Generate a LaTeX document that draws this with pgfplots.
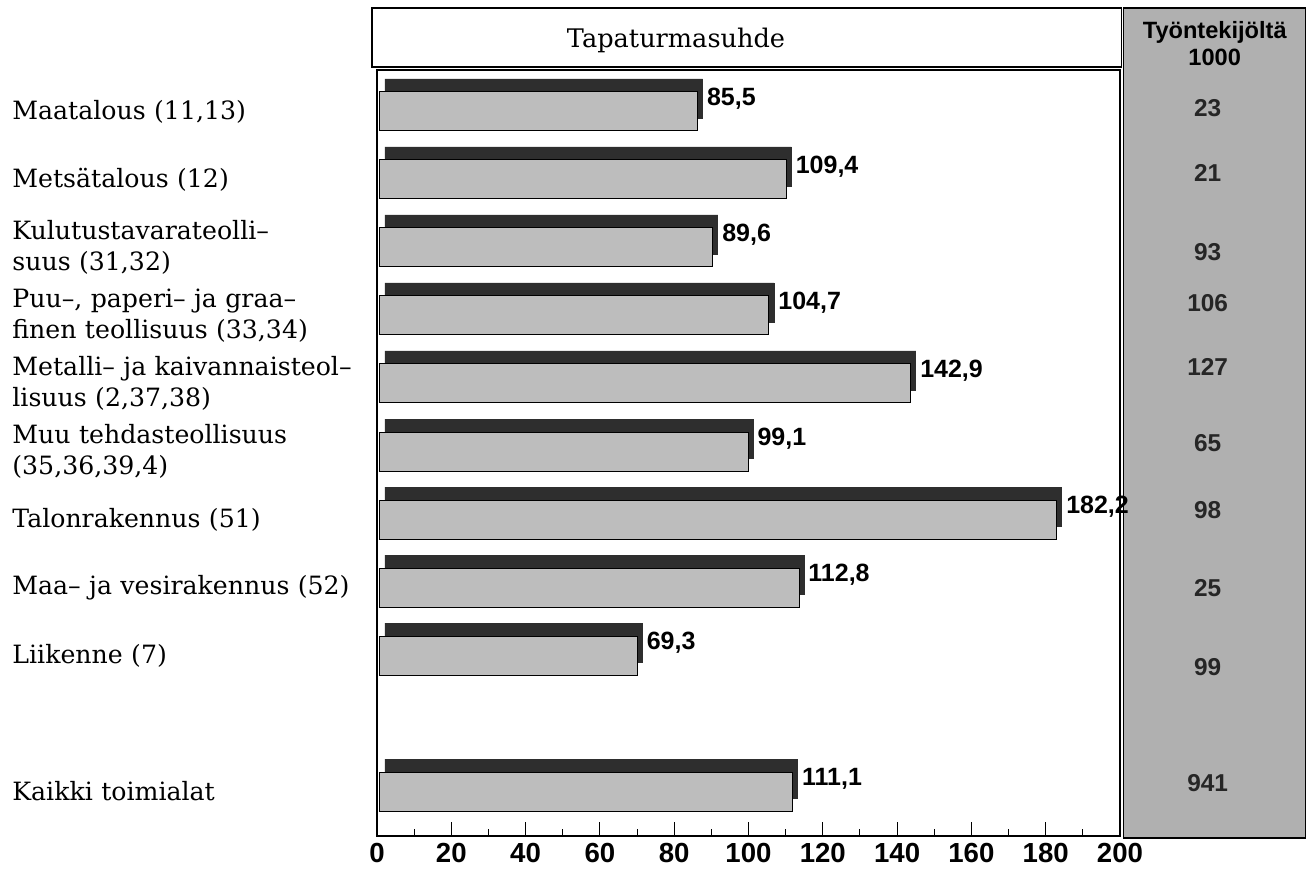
\documentclass[border=0pt]{standalone}
\usepackage{fontspec}
\setmainfont{DejaVu Serif}
\newfontfamily\numfont{Liberation Sans}
\usepackage{pgfplots}
\pgfplotsset{compat=1.18}

\definecolor{face}{gray}{0.74}
\definecolor{topface}{gray}{0.18}
\definecolor{panel}{gray}{0.69}

\begin{document}
\begin{tikzpicture}
\begin{axis}[
  scale only axis, width=371.5pt, height=383pt,
  xmin=0, xmax=200, ymin=-0.61, ymax=10.654, y dir=reverse,
  clip=false,
  axis line style={black, line width=0.6pt},
  xtick={0,20,...,200}, minor xtick={10,30,...,190},
  xtick pos=bottom, tick align=inside,
  major tick length=7pt, minor tick length=3.5pt,
  tick style={black, line width=0.5pt},
  xticklabel style={font=\numfont\bfseries\fontsize{13.8}{15}\selectfont,
    /pgf/number format/assume math mode=true},
  ytick={0,1,2,3,4,5,6,7,8,10},
  ytick style={draw=none},
  yticklabels={{Maatalous (11,13)},{Metsätalous (12)},{Kulutustavarateolli--\\suus (31,32)},{Puu--, paperi-- ja graa--\\finen teollisuus (33,34)},{Metalli-- ja kaivannaisteol--\\lisuus (2,37,38)},{Muu tehdasteollisuus\\(35,36,39,4)},{Talonrakennus (51)},{Maa-- ja vesirakennus (52)},{Liikenne (7)},{Kaikki toimialat}},
  yticklabel style={anchor=west, align=left, text width=180pt, inner sep=0pt,
    xshift=-182.5pt, font=\fontsize{12.6}{15.5}\selectfont},
]
% right panel and header
\draw[fill=panel, line width=0.6pt] (axis cs:201,-1.522) rectangle (axis cs:250,10.684);
\draw[line width=0.6pt] (axis cs:-1.35,-1.522) rectangle (axis cs:200.5,-0.654);
\node[font=\fontsize{12.8}{14}\selectfont] at (axis cs:80.5,-1.05) {Tapaturmasuhde};
\node[align=center, font=\numfont\bfseries\fontsize{11.8}{13.5}\selectfont] at (axis cs:225.5,-1.0) {Työntekijöltä\\1000};

% back (dark) faces
\addplot[xbar, bar width=19.5pt, fill=topface, draw=topface, xshift=4pt, yshift=6.5pt,
  point meta=x,
  nodes near coords={\pgfmathprintnumber[fixed, fixed zerofill, precision=1, use comma, assume math mode=true]{\pgfplotspointmeta}},
  every node near coord/.append style={anchor=west, inner sep=2pt, text=black,
    font=\numfont\bfseries\fontsize{12.5}{14}\selectfont}]
  coordinates {(85.5,0) (109.4,1) (89.6,2) (104.7,3) (142.9,4) (99.1,5) (182.2,6) (112.8,7) (69.3,8) (111.1,10)};

% front faces
\addplot[xbar, bar width=19.5pt, fill=face, draw=black, line width=0.5pt, xshift=1.5pt]
  coordinates {(85.5,0) (109.4,1) (89.6,2) (104.7,3) (142.9,4) (99.1,5) (182.2,6) (112.8,7) (69.3,8) (111.1,10)};

% employees (1000) column
\addplot[draw=none, mark=none, point meta=explicit symbolic, nodes near coords,
  every node near coord/.append style={anchor=center, text=black!85,
    font=\numfont\bfseries\fontsize{12.2}{13}\selectfont}]
  coordinates {(223.6,-0.05)[23] (223.6,0.904)[21] (223.6,2.066)[93] (223.6,2.816)[106]
    (223.6,3.757)[127] (223.6,4.875)[65] (223.6,5.86)[98] (223.6,7.01)[25]
    (223.6,8.17)[99] (223.6,9.875)[941]};
\end{axis}
\pgfresetboundingbox
\useasboundingbox (-188.5pt,-22.5pt) rectangle (467pt,418pt);
\end{tikzpicture}
\end{document}
